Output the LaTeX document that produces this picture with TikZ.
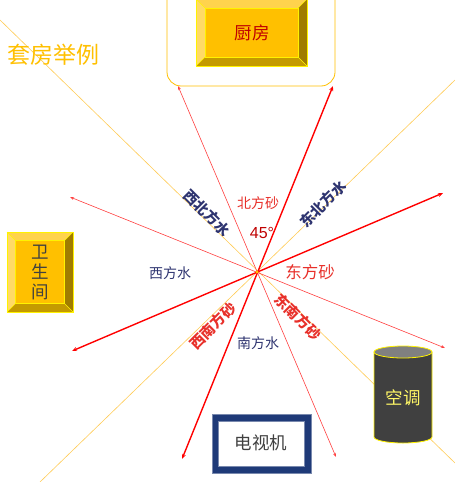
\documentclass[tikz,border=0pt]{standalone}
\usepackage{fontspec}
\setmainfont{Liberation Sans}
\newfontfamily\cjk{Noto Sans CJK SC}
\usetikzlibrary{arrows.meta}
\definecolor{gold}{HTML}{FFC000}
\definecolor{diag}{HTML}{FFCC55}
\definecolor{lred}{HTML}{FF0000}
\definecolor{tred}{HTML}{FF4040}
\definecolor{navy}{HTML}{2E3470}
\definecolor{lblred}{HTML}{E8302A}
\definecolor{bvtop}{HTML}{FFD34D}
\definecolor{bvleft}{HTML}{FFDA66}
\definecolor{bvright}{HTML}{A07C00}
\definecolor{bvbot}{HTML}{C49A00}
\definecolor{darktxt}{HTML}{404040}
\definecolor{kitchtxt}{HTML}{C00000}
\definecolor{cylbody}{HTML}{404040}
\definecolor{cyltop}{HTML}{808080}
\definecolor{tvframe}{HTML}{1F3A78}
\newcommand\bevbox[5]{%
  \fill[bvtop] (#1,#2) -- (#3,#2) -- ({#3-#5},{#2+#5}) -- ({#1+#5},{#2+#5}) -- cycle;
  \fill[bvleft] (#1,#2) -- ({#1+#5},{#2+#5}) -- ({#1+#5},{#4-#5}) -- (#1,#4) -- cycle;
  \fill[bvright] (#3,#2) -- ({#3-#5},{#2+#5}) -- ({#3-#5},{#4-#5}) -- (#3,#4) -- cycle;
  \fill[bvbot] (#1,#4) -- ({#1+#5},{#4-#5}) -- ({#3-#5},{#4-#5}) -- (#3,#4) -- cycle;
  \fill[gold] ({#1+#5},{#2+#5}) rectangle ({#3-#5},{#4-#5});
  \draw[yellow, line width=0.5pt] ({#1+#5},{#2+#5}) rectangle ({#3-#5},{#4-#5});
  \draw[yellow, line width=0.5pt] (#1,#2) -- ({#1+#5},{#2+#5}) (#3,#2) -- ({#3-#5},{#2+#5})
     (#1,#4) -- ({#1+#5},{#4-#5}) (#3,#4) -- ({#3-#5},{#4-#5});
  \draw[yellow, line width=0.8pt] (#1,#2) rectangle (#3,#4);
}
\begin{document}
\begin{tikzpicture}[x=1pt,y=-1pt,
  diagline/.style={diag, line width=0.6pt},
  thickarrow/.style={lred, line width=1.4pt, {Stealth[length=5pt,width=4pt]}-{Stealth[length=5pt,width=4pt]}},
  thinarrow/.style={tred, line width=0.6pt, {Stealth[length=4pt,width=3pt]}-{Stealth[length=4pt,width=3pt]}},
  navylbl/.style={text=navy, font=\cjk\fontsize{14}{16}\selectfont, inner sep=0pt},
  redlbl/.style={text=lblred, font=\cjk\fontsize{14}{16}\selectfont, inner sep=0pt},
  rotnavy/.style={text=navy, font=\cjk\bfseries\fontsize{14.5}{16}\selectfont, inner sep=0pt},
  rotred/.style={text=lblred, font=\cjk\bfseries\fontsize{14.5}{16}\selectfont, inner sep=0pt},
  boxtxt/.style={font=\cjk\fontsize{17.5}{20}\selectfont, inner sep=0pt}]
\useasboundingbox (0,0) rectangle (455,482);
\clip (0,0) rectangle (455,482);
\fill[white] (0,0) rectangle (455,482);

% diagonal guide lines
\coordinate (O) at (257,272);
\coordinate (dA) at (0,20);
\coordinate (dB) at (455,463);
\coordinate (dC) at (455,80);
\coordinate (dD) at (40,482);
\draw[diagline] (dA) -- (dB);
\draw[diagline] (dC) -- (dD);

% kitchen outline
\draw[gold, line width=0.8pt, fill=white, rounded corners=14pt] (167,-20) rectangle (335,86);
\coordinate (kL) at (178,86);
\coordinate (kR) at (333,86);

% arrows
\coordinate (t1b) at (182,459);
\coordinate (n1b) at (336,457);
\coordinate (t2a) at (72,351);
\coordinate (t2b) at (443,193);
\coordinate (n2a) at (70,197);
\coordinate (n2b) at (445,348);
\draw[thinarrow] (kL) -- (n1b);
\draw[thinarrow] (n2a) -- (n2b);
\draw[thickarrow] (t1b) -- (kR);
\draw[thickarrow] (t2a) -- (t2b);
\fill[gold] (O) circle (1.6pt);

% kitchen box
\bevbox{196}{-1}{307}{66}{9}
\node[boxtxt, text=kitchtxt] (kitchen) at (252,33) {厨房};

% bathroom box
\bevbox{7}{232}{73}{312}{8.5}
\node[boxtxt, text=darktxt, align=center, font=\cjk\fontsize{17.5}{20}\selectfont] (bath) at (40,272) {卫\\生\\间};

% title
\node[text=gold, font=\cjk\fontsize{23}{26}\selectfont, inner sep=0pt] (title) at (53,55) {套房举例};

% air conditioner cylinder
\draw[yellow, line width=0.8pt, fill=cylbody] (374,352) -- (374,437) arc[start angle=180, end angle=360, x radius=29pt, y radius=6pt] -- (432,352) -- cycle;
\draw[yellow, line width=0.8pt, fill=cyltop] (403,352) ellipse [x radius=29pt, y radius=6pt];
\node[boxtxt, text=yellow!60!white] (ac) at (403,398) {空调};

% TV
\fill[tvframe] (212,414) rectangle (311,473);
\draw[tvframe!60!white, line width=0.5pt] (212,414) rectangle (311,473);
\fill[white] (218,421) rectangle (304,466);
\draw[tvframe!60!white, line width=0.5pt] (218,421) rectangle (304,466);
\node[boxtxt, text=darktxt] (tv) at (261,443) {电视机};

% direction labels
\node[redlbl] (north) at (258,203) {北方砂};
\node[text=kitchtxt, font=\fontsize{16}{18}\selectfont, inner sep=0pt] (deg) at (262,233) {45°};
\node[navylbl] (west) at (170,273) {西方水};
\node[redlbl, font=\cjk\fontsize{16.5}{18}\selectfont] (east) at (310,272) {东方砂};
\node[navylbl] (south) at (258,343) {南方水};
\node[rotnavy, rotate=-45] (nw) at (207,213) {西北方水};
\node[rotnavy, rotate=45] (ne) at (323,204) {东北方水};
\node[rotred, rotate=45] (sw) at (213,326) {西南方砂};
\node[rotred, rotate=-45] (se) at (298,317) {东南方砂};
\end{tikzpicture}
\end{document}
